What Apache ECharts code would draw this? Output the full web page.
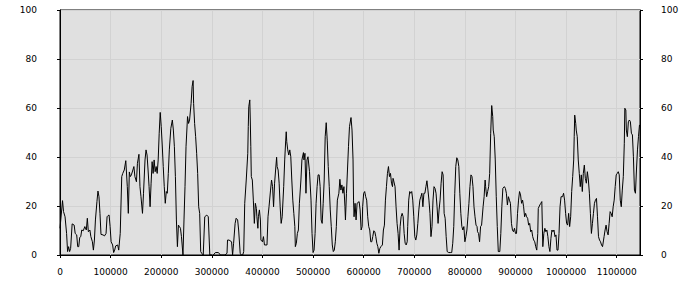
<!DOCTYPE html>
<html><head><meta charset="utf-8">
<script src="https://cdn.jsdelivr.net/npm/echarts@6/dist/echarts.min.js"></script>
<style>html,body{margin:0;padding:0;background:#fff}#c{width:700px;height:300px}</style>
</head><body><div id="c"></div>
<script>
// x positions (data units) and y values of the series
const xValues = [
0,5000,7000,10000,13000,15000,17000,19000,21000,24000,28000,30000,33000,35000,37000,39000,41000,43000,46000,49000,52000,54000,56000,59000,61000,64000,66000,68000,70000,73000,75000,77000,79000,81000,85000,88000,91000,93000,95000,97000,99000,101000,104000,106000,108000,110000,114000,116000,119000,122000,124000,127000,130000,133000,135000,137000,139000,141000,144000,146000,148000,151000,153000,156000,158000,160000,
163000,165000,168000,170000,172000,174000,176000,178000,180000,182000,184000,186000,188000,190000,192000,194000,196000,198000,200000,202000,204000,206000,208000,210000,212000,214000,216000,219000,222000,224000,226000,228000,230000,232000,234000,236000,238000,240000,243000,245000,247000,249000,252000,254000,256000,259000,261000,263000,264000,266000,268000,270000,272000,274000,276000,278000,280000,283000,286000,290000,293000,296000,303000,307000,313000,317000,326000,
330000,331000,334000,339000,341000,343000,346000,348000,351000,353000,356000,358000,361000,363000,365000,368000,371000,372000,373000,375000,376000,377000,378000,380000,382000,384000,386000,388000,389000,391000,392000,394000,396000,397000,400000,402000,404000,409000,411000,413000,416000,418000,420000,422000,424000,426000,428000,429000,431000,433000,435000,437000,439000,442000,444000,446000,447000,448000,450000,452000,454000,456000,458000,460000,462000,464000,465000,467000,469000,471000,473000,476000,478000,481000,482000,484000,486000,488000,490000,
493000,496000,498000,500000,502000,504000,506000,508000,510000,512000,514000,516000,518000,520000,522000,524000,526000,528000,530000,532000,534000,536000,538000,540000,542000,544000,546000,548000,551000,553000,555000,557000,559000,561000,563000,564000,566000,568000,570000,572000,575000,577000,579000,580000,581000,583000,585000,587000,591000,593000,595000,597000,598000,600000,602000,604000,606000,608000,610000,612000,614000,616000,618000,620000,622000,624000,626000,628000,630000,632000,634000,637000,639000,641000,643000,645000,647000,649000,651000,653000,655000,657000,658000,
659000,662000,664000,666000,668000,670000,672000,674000,676000,678000,680000,682000,684000,686000,687000,689000,691000,693000,695000,697000,699000,701000,703000,705000,707000,709000,711000,713000,715000,717000,719000,721000,723000,725000,727000,729000,731000,733000,735000,737000,739000,741000,743000,745000,747000,749000,751000,753000,755000,757000,759000,761000,763000,765000,768000,771000,774000,776000,778000,780000,782000,784000,786000,788000,790000,792000,794000,796000,798000,800000,802000,804000,806000,808000,810000,812000,814000,816000,818000,820000,822000,824000,
825000,827000,829000,831000,833000,836000,838000,840000,841000,843000,845000,847000,849000,851000,853000,855000,856000,858000,860000,862000,864000,866000,869000,871000,873000,875000,878000,880000,882000,884000,886000,888000,890000,892000,894000,896000,898000,900000,902000,904000,906000,908000,910000,912000,914000,916000,918000,920000,922000,924000,926000,928000,930000,932000,934000,936000,938000,940000,942000,944000,945000,948000,950000,952000,954000,956000,958000,960000,962000,964000,966000,968000,970000,972000,974000,976000,978000,980000,982000,984000,986000,988000,990000,
993000,995000,997000,999000,1001000,1003000,1005000,1007000,1009000,1011000,1013000,1015000,1016000,1017000,1019000,1020000,1022000,1024000,1026000,1028000,1030000,1032000,1034000,1036000,1038000,1040000,1042000,1044000,1046000,1048000,1050000,1052000,1054000,1056000,1058000,1060000,1062000,1064000,1066000,1068000,1070000,1072000,1074000,1075000,1077000,1079000,1081000,1083000,1085000,1087000,1089000,1091000,1093000,1095000,1097000,1099000,1101000,1103000,1105000,1107000,1109000,1111000,1113000,1115000,1116000,1118000,1119000,1121000,1123000,1125000,1127000,1129000,1131000,1133000,1135000,1137000,1139000,1141000,1143000,1145000,1146000
];
const yValues = [
10.9,22.2,17.7,15.6,8.8,1.4,3.4,1.4,2.7,12.7,12.2,8.8,8.2,3.4,3.4,7.2,7.5,10.2,9.9,11.6,10.2,15.0,9.5,10.2,7.5,5.4,2.0,6.1,14.3,21.8,26.1,23.8,17.0,8.4,8.2,7.8,8.8,15.6,16.1,16.3,11.6,5.4,4.1,1.0,2.0,3.7,4.1,2.0,8.8,32.0,33.3,34.7,38.5,27.9,17.0,33.9,32.0,32.7,34.7,36.1,32.0,29.9,37.4,41.1,27.9,23.8,
17.0,25.2,38.8,42.9,40.8,34.7,27.9,19.7,29.3,38.1,33.3,38.8,34.0,36.1,33.3,38.8,49.7,58.2,52.4,44.9,36.1,27.9,21.1,25.9,25.2,33.3,42.9,51.7,55.1,51.0,44.2,32.0,14.3,3.4,12.2,11.6,10.9,7.5,0,14.3,27.9,44.2,56.5,53.7,55.1,61.9,68.7,71.2,61.9,53.7,48.3,41.5,33.3,19.7,17.0,1.4,0.7,0,15.6,16.3,15.6,0,0,1.0,1.0,0,0,
0.7,6.1,6.1,5.4,0,4.8,12.9,15.0,14.3,10.2,0.7,0,0,1.4,21.1,30.6,41.5,52.4,60.5,63.3,55.1,44.2,32.0,30.6,22.4,12.9,21.1,19.0,15.6,10.9,15.6,18.4,14.3,6.1,5.4,7.5,4.1,4.1,15.6,19.7,26.5,30.6,27.9,19.7,29.3,34.7,39.9,36.1,34.7,29.3,19.7,12.9,15.6,27.9,38.8,46.9,50.3,46.3,42.9,40.8,42.9,40.1,30.6,22.4,17.0,11.6,3.4,4.8,8.8,10.2,21.1,30.6,38.8,41.8,38.8,41.5,25.2,38.8,40.1,
34.0,22.4,8.8,1.0,2.0,8.8,21.1,27.9,32.7,32.7,27.9,14.3,12.9,21.1,30.6,48.3,54.0,46.9,36.1,27.9,18.4,11.6,4.1,1.4,2.0,5.4,11.6,22.4,25.2,30.9,26.5,28.6,25.2,27.9,19.7,14.3,25.2,34.7,44.2,52.4,56.1,51.0,38.8,22.4,15.6,21.1,14.3,21.1,21.8,18.4,10.2,11.6,19.7,25.2,25.9,23.8,22.4,15.6,11.6,10.2,5.4,5.4,7.5,9.9,9.5,7.5,4.8,3.4,0.7,2.7,3.4,4.1,10.2,12.2,22.4,27.9,33.3,36.1,32.0,33.3,29.3,27.9,31.3,
30.6,27.9,19.7,12.9,8.8,2.0,11.6,15.6,17.0,15.6,8.8,4.8,4.1,5.4,11.6,22.4,25.9,25.2,25.9,22.4,15.6,7.5,6.1,8.2,12.9,18.4,22.4,23.8,25.2,19.7,25.2,25.2,27.9,30.3,26.5,22.4,17.0,7.5,11.6,22.4,27.9,27.2,25.2,19.7,12.9,18.4,22.4,29.3,34.0,32.7,17.0,15.0,7.5,1.4,1.0,1.0,1.0,4.8,11.6,25.2,36.1,39.7,38.8,36.1,25.2,17.0,11.6,10.2,11.6,5.4,7.5,10.2,15.6,21.1,27.9,32.7,32.0,27.9,19.7,15.6,12.2,11.6,
9.5,8.8,5.4,11.6,12.2,19.7,23.8,30.6,27.9,23.8,25.9,27.9,33.3,49.7,61.0,56.5,51.0,48.3,38.8,23.8,11.6,1.4,1.4,8.8,19.7,27.2,27.9,27.2,25.2,20.4,23.8,22.4,21.1,12.9,10.2,9.5,10.9,8.8,8.8,17.0,22.4,25.9,24.5,21.1,22.4,19.7,15.6,17.0,15.6,15.0,12.2,12.9,9.5,10.2,7.5,6.1,5.4,3.4,2.0,8.8,19.0,20.4,21.1,21.8,3.4,8.8,10.9,9.5,10.2,7.5,3.4,1.4,6.8,10.2,9.5,10.2,7.5,8.2,2.0,2.0,8.8,19.7,23.8,
23.8,25.2,22.4,17.0,12.9,12.2,17.0,11.6,15.6,25.9,32.0,38.8,48.3,57.1,53.7,51.0,48.3,38.8,33.3,27.9,32.7,25.9,33.3,36.7,31.3,29.3,34.0,30.6,25.2,17.0,8.8,12.9,17.0,21.1,22.4,23.1,15.6,7.5,6.1,5.4,4.1,3.4,6.1,7.5,10.2,12.2,9.5,8.2,12.9,17.7,17.0,15.6,19.7,22.4,27.9,32.7,33.3,34.0,32.7,22.4,19.7,26.5,32.0,45.6,59.9,59.2,51.0,48.3,54.4,55.1,54.4,49.7,49.0,40.1,26.5,25.2,34.7,42.9,48.3,53.1,53.1
];
// axis tick settings
const xTickStep = 100000;
const yTickStep = 20;

const xMax = 1146000;
const seriesData = xValues.map((x, i) => [x, yValues[i]]);
const font = {fontFamily: 'DejaVu Sans', fontSize: 9, color: '#000'};

const chart = echarts.init(document.getElementById('c'), null, {renderer: 'svg'});
chart.setOption({
  animation: false,
  grid: {left: 60, right: 60, top: 10, bottom: 45, show: true, backgroundColor: '#e0e0e0', borderColor: '#000', borderWidth: 1},
  xAxis: {
    type: 'value', min: 0, max: xMax, interval: xTickStep,
    axisLine: {show: true, onZero: false, lineStyle: {color: '#000', width: 1}},
    axisTick: {show: true, length: 3, lineStyle: {color: '#000'}},
    axisLabel: Object.assign({margin: 12, showMaxLabel: false, formatter: function (v) { return String(v); }}, font),
    splitLine: {show: true, lineStyle: {color: '#d2d2d2', width: 1}},
  },
  yAxis: [
    {type: 'value', min: 0, max: 100, interval: yTickStep, position: 'left',
     axisLine: {show: true, lineStyle: {color: '#000'}}, axisTick: {show: true, length: 3, lineStyle: {color: '#000'}},
     splitLine: {show: true, lineStyle: {color: '#d2d2d2'}}, axisLabel: Object.assign({margin: 23}, font)},
    {type: 'value', min: 0, max: 100, interval: yTickStep, position: 'right',
     axisLine: {show: true, lineStyle: {color: '#000'}}, axisTick: {show: true, length: 3, lineStyle: {color: '#000'}},
     splitLine: {show: false}, axisLabel: Object.assign({margin: 21, align: 'left'}, font)},
  ],
  series: [{
    type: 'line', data: seriesData, showSymbol: false,
    lineStyle: {color: '#000', width: 1}
  }]
});
</script></body></html>
